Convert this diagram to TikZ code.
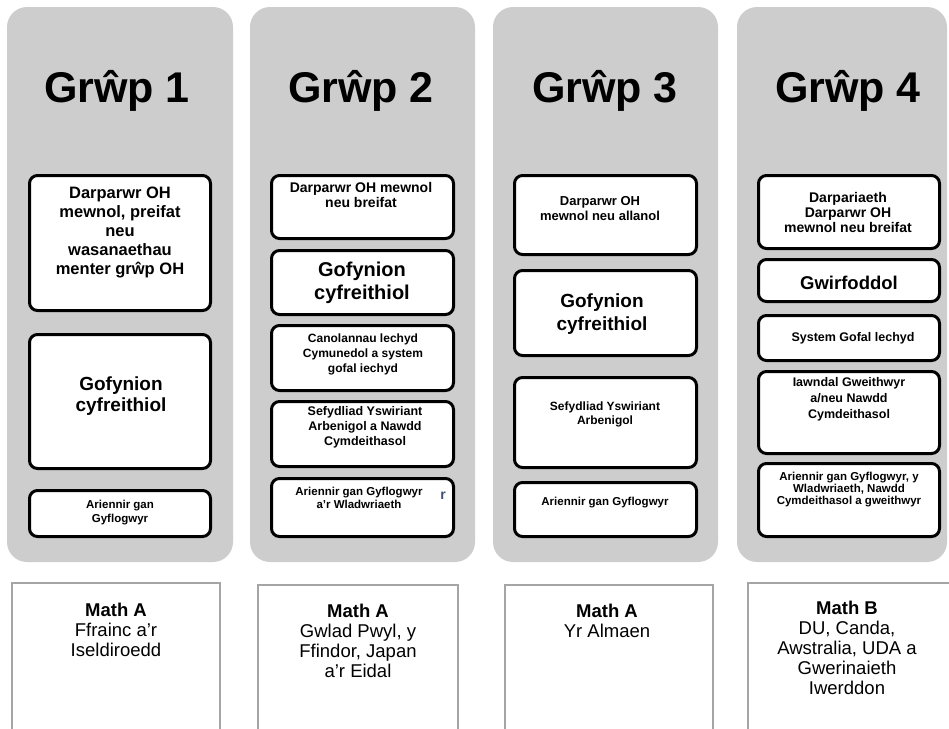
\documentclass[tikz,border=0pt]{standalone}
\usepackage{fontspec}
\setmainfont{Liberation Sans}
\definecolor{panelgray}{RGB}{205,205,205}
\definecolor{mgray}{RGB}{165,165,165}
\definecolor{strayblue}{RGB}{60,80,115}
\tikzset{
 panel/.style n args={2}{rectangle, fill=panelgray, rounded corners=20pt, minimum width=#1, minimum height=#2, inner sep=0pt},
 wbox/.style n args={2}{rectangle, draw=black, line width=3pt, fill=white, rounded corners=8pt, minimum width=#1, minimum height=#2, inner sep=0pt},
 mbox/.style n args={2}{rectangle, draw=mgray, line width=1.3pt, fill=white, minimum width=#1, minimum height=#2, inner sep=0pt},
 grtitle/.style={inner sep=0pt, font=\fontsize{43}{48}\selectfont\bfseries},
 txt/.style n args={2}{align=center, inner sep=0pt, font=\fontsize{#1}{#2}\selectfont\bfseries},
 mtxt/.style={align=center, inner sep=0pt, font=\fontsize{18.5}{20}\selectfont},
}
\begin{document}
\begin{tikzpicture}[x=1pt,y=-1pt]
\useasboundingbox (0,0) rectangle (949,728);
\clip (0,0) rectangle (949,728);
\fill[white] (0,0) rectangle (949,728);

% grey panels
\node[panel={226}{555}] (g1) at (120,284.5) {};
\node[panel={225}{555}] (g2) at (362.5,284.5) {};
\node[panel={225}{555}] (g3) at (605.5,284.5) {};
\node[panel={210}{555}] (g4) at (842,284.5) {};

% titles
\node[grtitle] (t1) at (117,91) {Grŵp 1};
\node[grtitle] (t2) at (361,91) {Grŵp 2};
\node[grtitle] (t3) at (605,91) {Grŵp 3};
\node[grtitle] (t4) at (848,91) {Grŵp 4};

% panel 1 boxes
\node[wbox={181}{135}] (p1a) at (120,243) {};
\node[wbox={181}{134}] (p1b) at (120,401.5) {};
\node[wbox={181}{46}] (p1c) at (120,513.5) {};
\node[txt={16.5}{19}] (p1at) at (120,232) {Darparwr OH\\mewnol, preifat\\neu\\wasanaethau\\menter grŵp OH};
\node[txt={19}{21}] (p1bt) at (121,396.5) {Gofynion\\cyfreithiol};
\node[txt={11.5}{14}] (p1ct) at (120,513) {Ariennir gan\\Gyflogwyr};

% panel 2 boxes
\node[wbox={182}{63}] (p2a) at (362.5,207) {};
\node[wbox={182}{64}] (p2b) at (362.5,282.5) {};
\node[wbox={182}{65}] (p2c) at (362.5,358) {};
\node[wbox={182}{65}] (p2d) at (362.5,434) {};
\node[wbox={182}{58}] (p2e) at (362.5,507.5) {};
\node[txt={14}{15.5}] (p2at) at (361,195) {Darparwr OH mewnol\\neu breifat};
\node[txt={20}{23}] (p2bt) at (362,282.5) {Gofynion\\cyfreithiol};
\node[txt={12}{15}] (p2ct) at (363,354) {Canolannau lechyd\\Cymunedol a system\\gofal iechyd};
\node[txt={12.5}{15}] (p2dt) at (365,427) {Sefydliad Yswiriant\\Arbenigol a Nawdd\\Cymdeithasol};
\node[txt={11.5}{13}] (p2et) at (359,497.5) {Ariennir gan Gyflogwyr\\a’r Wladwriaeth};
\node[inner sep=0pt, text=strayblue, font=\fontsize{14}{14}\selectfont\bfseries] (p2er) at (443,496) {r};

% panel 3 boxes
\node[wbox={182}{79}] (p3a) at (605.5,215) {};
\node[wbox={182}{85}] (p3b) at (605.5,313) {};
\node[wbox={182}{90}] (p3c) at (605.5,422.5) {};
\node[wbox={182}{54}] (p3d) at (605.5,509.5) {};
\node[txt={13}{15}] (p3at) at (600,209) {Darparwr OH\\mewnol neu allanol};
\node[txt={19}{23}] (p3bt) at (602,314.5) {Gofynion\\cyfreithiol};
\node[txt={12}{14}] (p3ct) at (605,414) {Sefydliad Yswiriant\\Arbenigol};
\node[txt={11.5}{13}] (p3dt) at (605,503) {Ariennir gan Gyflogwyr};

% panel 4 boxes
\node[wbox={181}{73}] (p4a) at (849,212) {};
\node[wbox={181}{42}] (p4b) at (849,280.5) {};
\node[wbox={181}{45}] (p4c) at (849,338) {};
\node[wbox={181}{82}] (p4d) at (849,412.5) {};
\node[wbox={181}{73}] (p4e) at (849,500) {};
\node[txt={14}{15}] (p4at) at (848,212) {Darpariaeth\\Darparwr OH\\mewnol neu breifat};
\node[txt={18.5}{20}] (p4bt) at (849,283) {Gwirfoddol};
\node[txt={12.5}{14}] (p4ct) at (853,338) {System Gofal lechyd};
\node[txt={12.5}{16}] (p4dt) at (849,399) {Iawndal Gweithwyr\\a/neu Nawdd\\Cymdeithasol};
\node[txt={11.5}{12}] (p4et) at (849,490) {Ariennir gan Gyflogwyr, y\\Wladwriaeth, Nawdd\\Cymdeithasol a gweithwyr};

% bottom boxes
\node[mbox={208}{160}] (m1) at (116,663) {};
\node[mbox={200}{160}] (m2) at (358,665) {};
\node[mbox={208}{160}] (m3) at (609,665) {};
\node[mbox={212}{160}] (m4) at (854,663) {};
\node[mtxt] (m1t) at (116,630) {\textbf{Math A}\\Ffrainc a’r\\Iseldiroedd};
\node[mtxt] (m2t) at (358,641) {\textbf{Math A}\\Gwlad Pwyl, y\\Ffindor, Japan\\a’r Eidal};
\node[mtxt] (m3t) at (607,621) {\textbf{Math A}\\Yr Almaen};
\node[mtxt] (m4t) at (847,647.5) {\textbf{Math B}\\DU, Canda,\\Awstralia, UDA a\\Gwerinaieth\\Iwerddon};
\end{tikzpicture}
\end{document}
